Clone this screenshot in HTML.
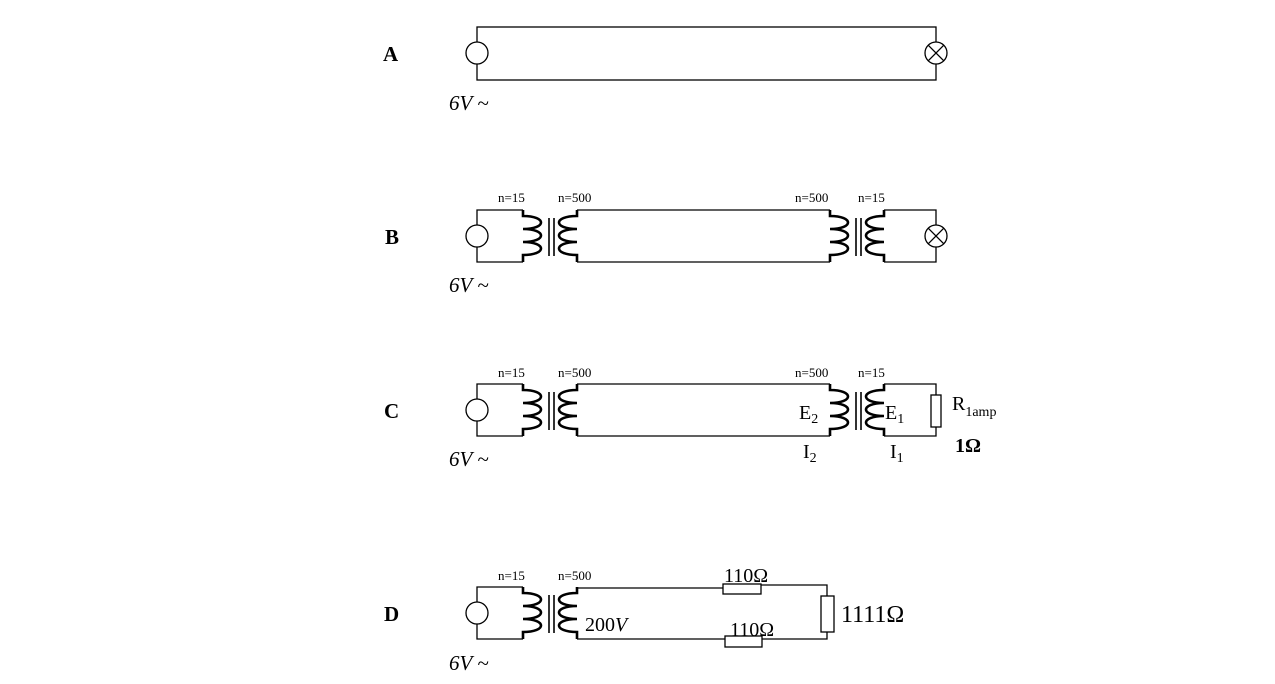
<!DOCTYPE html>
<html><head><meta charset="utf-8"><style>
html,body{margin:0;padding:0;background:#fff;width:1275px;height:684px;overflow:hidden}
svg{display:block}
text{font-family:"Liberation Serif",serif;fill:#000}
.w{fill:none;stroke:#000;stroke-width:1.3}
.c{fill:none;stroke:#000;stroke-width:2.6}
.sm{font-size:13px}
.lb{font-size:21px;font-weight:bold}
.v{font-size:21px;font-style:italic}
.big{font-size:20px}
</style></head><body>
<svg width="1275" height="684" viewBox="0 0 1275 684">
<defs>
<g id="xfR">
<path class="c" d="M0,0 v6 c24,0 24,13 0,13 c24,0 24,13 0,13 c24,0 24,13 0,13 v7"/>
<line class="w" x1="26" y1="8" x2="26" y2="46" style="stroke-width:1.6"/>
<line class="w" x1="31" y1="8" x2="31" y2="46" style="stroke-width:1.6"/>
<path class="c" d="M54,0 v6 c-24,0 -24,13 0,13 c-24,0 -24,13 0,13 c-24,0 -24,13 0,13 v7"/>
</g>
<g id="src"><circle cx="0" cy="0" r="11" fill="#fff" stroke="#000" stroke-width="1.3"/></g>
<g id="lamp"><circle cx="0" cy="0" r="11" fill="#fff" stroke="#000" stroke-width="1.3"/><path class="w" d="M-7.8,-7.8 L7.8,7.8 M-7.8,7.8 L7.8,-7.8"/></g>
</defs>

<g>
<text x="383" y="61" class="lb">A</text>
<rect class="w" x="477" y="27" width="459" height="53"/>
<use href="#src" x="477" y="53"/>
<use href="#lamp" x="936" y="53"/>
<text x="449" y="110" class="v">6V ~</text>
</g>

<g>
<text x="385" y="244" class="lb">B</text>
<path class="w" d="M523,210 H477 V262 H523"/>
<use href="#xfR" x="523" y="210"/>
<path class="w" d="M577,210 H830 M577,262 H830"/>
<use href="#xfR" x="830" y="210"/>
<path class="w" d="M884,210 H936 V262 H884"/>
<use href="#src" x="477" y="236"/>
<use href="#lamp" x="936" y="236"/>
<text x="498" y="202" class="sm">n=15</text><text x="558" y="202" class="sm">n=500</text>
<text x="795" y="202" class="sm">n=500</text><text x="858" y="202" class="sm">n=15</text>
<text x="449" y="292" class="v">6V ~</text>
</g>

<g>
<text x="384" y="418" class="lb">C</text>
<path class="w" d="M523,384 H477 V436 H523"/>
<use href="#xfR" x="523" y="384"/>
<path class="w" d="M577,384 H830 M577,436 H830"/>
<use href="#xfR" x="830" y="384"/>
<path class="w" d="M884,384 H936 V395 M936,427 V436 H884"/>
<rect class="w" x="931" y="395" width="10" height="32" fill="#fff"/>
<use href="#src" x="477" y="410"/>
<text x="498" y="377" class="sm">n=15</text><text x="558" y="377" class="sm">n=500</text>
<text x="795" y="377" class="sm">n=500</text><text x="858" y="377" class="sm">n=15</text>
<text x="799" y="419" class="big">E<tspan font-size="14" dy="4">2</tspan></text>
<text x="885" y="419" class="big">E<tspan font-size="14" dy="4">1</tspan></text>
<text x="803" y="458" class="big">I<tspan font-size="14" dy="4">2</tspan></text>
<text x="890" y="458" class="big">I<tspan font-size="14" dy="4">1</tspan></text>
<text x="952" y="410" class="big">R<tspan font-size="14" dy="6">1amp</tspan></text>
<text x="955" y="452" class="big" font-weight="bold">1Ω</text>
<text x="449" y="466" class="v">6V ~</text>
</g>

<g>
<text x="384" y="621" class="lb">D</text>
<path class="w" d="M523,587 H477 V639 H523"/>
<use href="#xfR" x="523" y="587"/>
<path class="w" d="M577,588 H723 M761,585 H827 V596 M827,632 V639 H762 M725,639 H577"/>
<rect class="w" x="723" y="584" width="38" height="10" fill="#fff"/>
<rect class="w" x="725" y="636" width="37" height="11" fill="#fff"/>
<rect class="w" x="821" y="596" width="13" height="36" fill="#fff"/>
<use href="#src" x="477" y="613"/>
<text x="498" y="580" class="sm">n=15</text><text x="558" y="580" class="sm">n=500</text>
<text x="724" y="582" class="big">110Ω</text>
<text x="730" y="636" class="big">110Ω</text>
<text x="841" y="622" class="big" style="font-size:24px">1111Ω</text>
<text x="585" y="631" class="big">200<tspan font-style="italic">V</tspan></text>
<text x="449" y="670" class="v">6V ~</text>
</g>
</svg>
</body></html>
